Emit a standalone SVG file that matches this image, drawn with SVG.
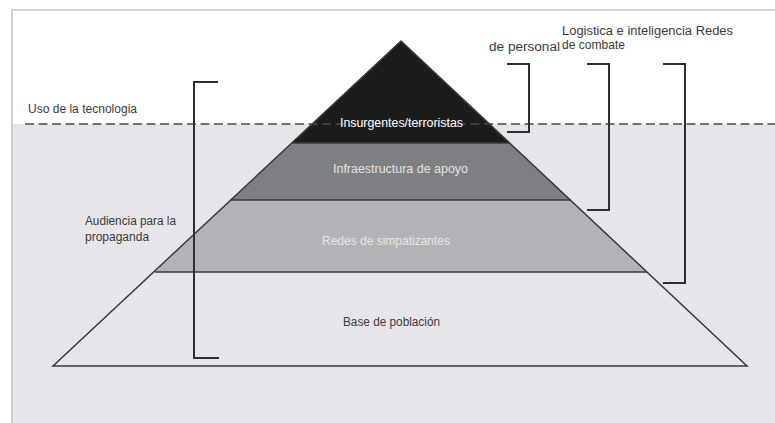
<svg xmlns="http://www.w3.org/2000/svg" width="775" height="423" viewBox="0 0 775 423">
<style>
text{font-family:"Liberation Sans",Arial,sans-serif;font-size:12px;fill:#3a3a3a}
.w{fill:#ffffff}
.lg{fill:#e4e4e4}
.br{fill:none;stroke:#2e2e2e;stroke-width:2}
.ln{stroke:#3a3a3a;stroke-width:1.5;fill:none}
</style>
<rect x="0" y="0" width="775" height="423" fill="#ffffff"/>
<rect x="12" y="124" width="763" height="299" fill="#e6e6ea"/>
<path d="M12,423 V10 H775" fill="none" stroke="#c4c4c6" stroke-width="1.5"/>
<g id="layer-base">
<polygon points="155,272 647,272 747,366 53,366" fill="#e6e6ea"/>
</g>
<g id="layer-simpatizantes">
<polygon points="231,200 571,200 647,272 155,272" fill="#b1b3b6"/>
</g>
<g id="layer-apoyo">
<polygon points="292,143 510,143 571,200 231,200" fill="#7e7f82"/>
</g>
<g id="layer-insurgentes">
<polygon points="401,41 510,143 292,143" fill="#1c1c1c"/>
</g>
<g id="connectors">
<line x1="25" y1="124" x2="775" y2="124" stroke="#4a4a4a" stroke-width="1.5" stroke-dasharray="9,4.5"/>
<polygon class="ln" points="401,41 747,366 53,366"/>
<line class="ln" x1="292" y1="143" x2="510" y2="143"/>
<line class="ln" x1="231" y1="200" x2="571" y2="200"/>
<line class="ln" x1="155" y1="272" x2="647" y2="272"/>
<path class="br" d="M218,82 H194 V358 H219"/>
<path class="br" d="M507,64 H529 V132 H507"/>
<path class="br" d="M587,64 H609 V210 H587"/>
<path class="br" d="M663,64 H685 V283 H663"/>
</g>
<g id="labels">
<text x="28" y="113" textLength="109" lengthAdjust="spacingAndGlyphs">Uso de la tecnologia</text>
<text x="340" y="127" class="w" textLength="123" lengthAdjust="spacingAndGlyphs">Insurgentes/terroristas</text>
<text x="333" y="173" class="lg" textLength="135" lengthAdjust="spacingAndGlyphs">Infraestructura de apoyo</text>
<text x="322" y="245" class="lg" textLength="128" lengthAdjust="spacingAndGlyphs">Redes de simpatizantes</text>
<text x="343" y="326" textLength="97" lengthAdjust="spacingAndGlyphs">Base de población</text>
<text x="85" y="225" textLength="91" lengthAdjust="spacingAndGlyphs">Audiencia para la</text>
<text x="85" y="241">propaganda</text>
<text x="489" y="51" textLength="71" lengthAdjust="spacingAndGlyphs">de personal</text>
<text x="562" y="35" style="font-size:12.5px" textLength="171" lengthAdjust="spacingAndGlyphs">Logistica e inteligencia Redes</text>
<text x="562" y="49" textLength="63" lengthAdjust="spacingAndGlyphs">de combate</text>
</g>
</svg>
